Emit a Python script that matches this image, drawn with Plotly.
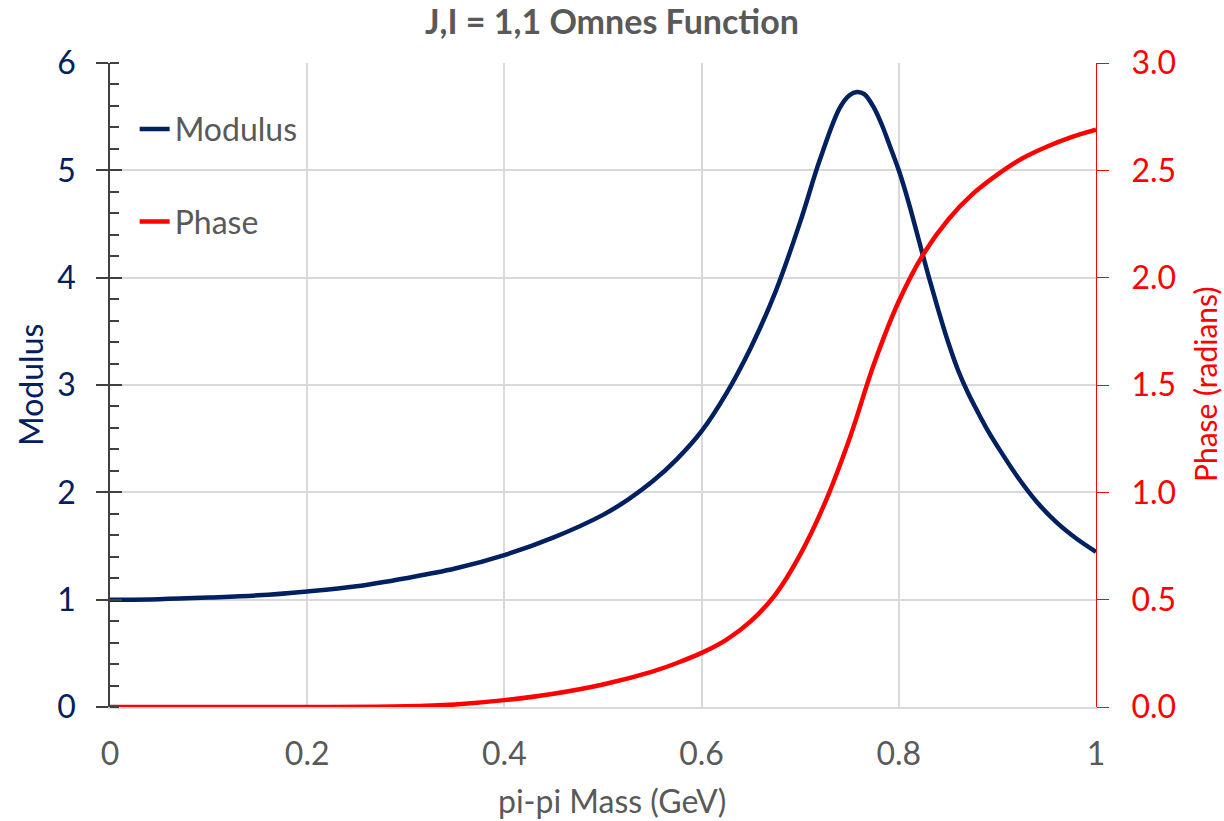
import plotly.graph_objects as go

# ---- data ----
mod_x = [0.0, 0.05, 0.10, 0.15, 0.20, 0.25, 0.30, 0.35, 0.40, 0.45, 0.50, 0.525, 0.55,
         0.575, 0.60, 0.625, 0.65, 0.675, 0.70, 0.72, 0.74, 0.75, 0.7575, 0.765, 0.775,
         0.783, 0.79, 0.80, 0.81, 0.82, 0.83, 0.84, 0.85, 0.86, 0.87, 0.88, 0.89, 0.90,
         0.92, 0.94, 0.96, 0.98, 1.0]
modulus = [1.000, 1.005, 1.02, 1.04, 1.077, 1.125, 1.20, 1.29, 1.415, 1.58, 1.79, 1.93, 2.10,
           2.31, 2.57, 2.92, 3.35, 3.87, 4.52, 5.10, 5.58, 5.70, 5.73, 5.71, 5.58,
           5.42, 5.25, 5.00, 4.70, 4.36, 4.02, 3.70, 3.40, 3.14, 2.93, 2.75, 2.58, 2.43,
           2.15, 1.91, 1.72, 1.57, 1.446]

ph_x = [0.0, 0.10, 0.20, 0.30, 0.35, 0.40, 0.45, 0.50, 0.55, 0.575, 0.60, 0.625, 0.65,
        0.675, 0.70, 0.725, 0.75, 0.775, 0.80, 0.825, 0.85, 0.875, 0.90, 0.925, 0.95,
        0.975, 1.0]
phase = [0.0, 0.0, 0.0, 0.003, 0.012, 0.032, 0.062, 0.105, 0.165, 0.205, 0.252, 0.313, 0.40,
         0.525, 0.71, 0.95, 1.25, 1.60, 1.89, 2.11, 2.27, 2.39, 2.48, 2.555, 2.61,
         2.655, 2.69]

x_ticks = [0, 0.2, 0.4, 0.6, 0.8, 1]

NAVY = "#002060"
RED = "#FF0000"
GRAY = "#595959"
GRID = "#D9D9D9"
FONT = "Lato"
FS = 32

fig = go.Figure()
fig.add_trace(go.Scatter(x=mod_x, y=modulus, mode="lines", name="Modulus",
                         line=dict(color=NAVY, width=4.5, shape="spline", smoothing=1.0),
                         legendgroup="a", yaxis="y"))
fig.add_trace(go.Scatter(x=ph_x, y=phase, mode="lines", name="Phase",
                         line=dict(color=RED, width=4.5, shape="spline", smoothing=1.0),
                         legendgroup="b", yaxis="y2"))
# dummy trace to activate the overlay axis carrying the inner half of the major ticks
fig.add_trace(go.Scatter(x=[None], y=[None], yaxis="y3", showlegend=False, hoverinfo="skip"))

fig.update_layout(
    width=1224, height=821,
    margin=dict(l=110, r=128, t=63, b=114),
    paper_bgcolor="white", plot_bgcolor="white",
    font=dict(family=FONT, size=FS, color=GRAY),
    title=dict(text="<b>J,I = 1,1 Omnes Function</b>", x=0.5, xref="container",
               y=1 - 22 / 821, yanchor="middle", yref="container",
               font=dict(family=FONT, size=34, color=GRAY)),
    showlegend=True,
    legend=dict(x=0.025, y=0.94, xanchor="left", yanchor="top",
                bgcolor="rgba(0,0,0,0)", traceorder="grouped", tracegroupgap=48,
                font=dict(family=FONT, size=FS, color=GRAY), itemwidth=30),
    xaxis=dict(range=[0, 1], tickvals=x_ticks, showgrid=True, gridcolor=GRID, gridwidth=1.5,
               zeroline=False, showline=True, linecolor=GRID, linewidth=1.5,
               ticks="", ticklabelstandoff=18,
               tickfont=dict(family=FONT, size=FS, color=GRAY)),
    yaxis=dict(range=[0, 6], dtick=1, showgrid=True, gridcolor=GRID, gridwidth=1.5,
               zeroline=False, showline=True, linecolor="#404040", linewidth=1.5,
               ticks="outside", ticklen=12, tickcolor="#404040", tickwidth=1.5,
               ticklabelstandoff=14,
               minor=dict(ticks="inside", ticklen=9, dtick=0.2, tickcolor="#404040",
                          tickwidth=1.5, showgrid=False),
               tickfont=dict(family=FONT, size=FS, color=NAVY)),
    yaxis3=dict(range=[0, 6], dtick=1, overlaying="y", side="left", showgrid=False,
                zeroline=False, showline=False, showticklabels=False,
                ticks="inside", ticklen=12, tickcolor="#404040", tickwidth=1.5),
    yaxis2=dict(range=[0, 3], dtick=0.5, tickformat=".1f", overlaying="y", side="right",
                showgrid=False, zeroline=False, showline=True, linecolor=RED, linewidth=1,
                ticks="outside", ticklen=12, tickcolor=RED, tickwidth=1,
                ticklabelstandoff=16,
                tickfont=dict(family=FONT, size=FS, color=RED)),
    annotations=[
        dict(text="Modulus", xref="paper", yref="paper", x=(30 - 110) / 986, y=0.5,
             xanchor="center", yanchor="middle",
             textangle=-90, showarrow=False, font=dict(family=FONT, size=FS, color=NAVY)),
        dict(text="Phase (radians)", xref="paper", yref="paper", x=(1205 - 110) / 986,
             y=0.5, xanchor="center", yanchor="middle", textangle=-90, showarrow=False,
             font=dict(family=FONT, size=30, color=RED)),
        dict(text="pi-pi Mass (GeV)", xref="paper", yref="paper", x=(612 - 110) / 986,
             y=(707 - 800) / 644, xanchor="center", yanchor="middle", showarrow=False,
             font=dict(family=FONT, size=FS, color=GRAY)),
    ],
)

fig.write_html("out.html")
